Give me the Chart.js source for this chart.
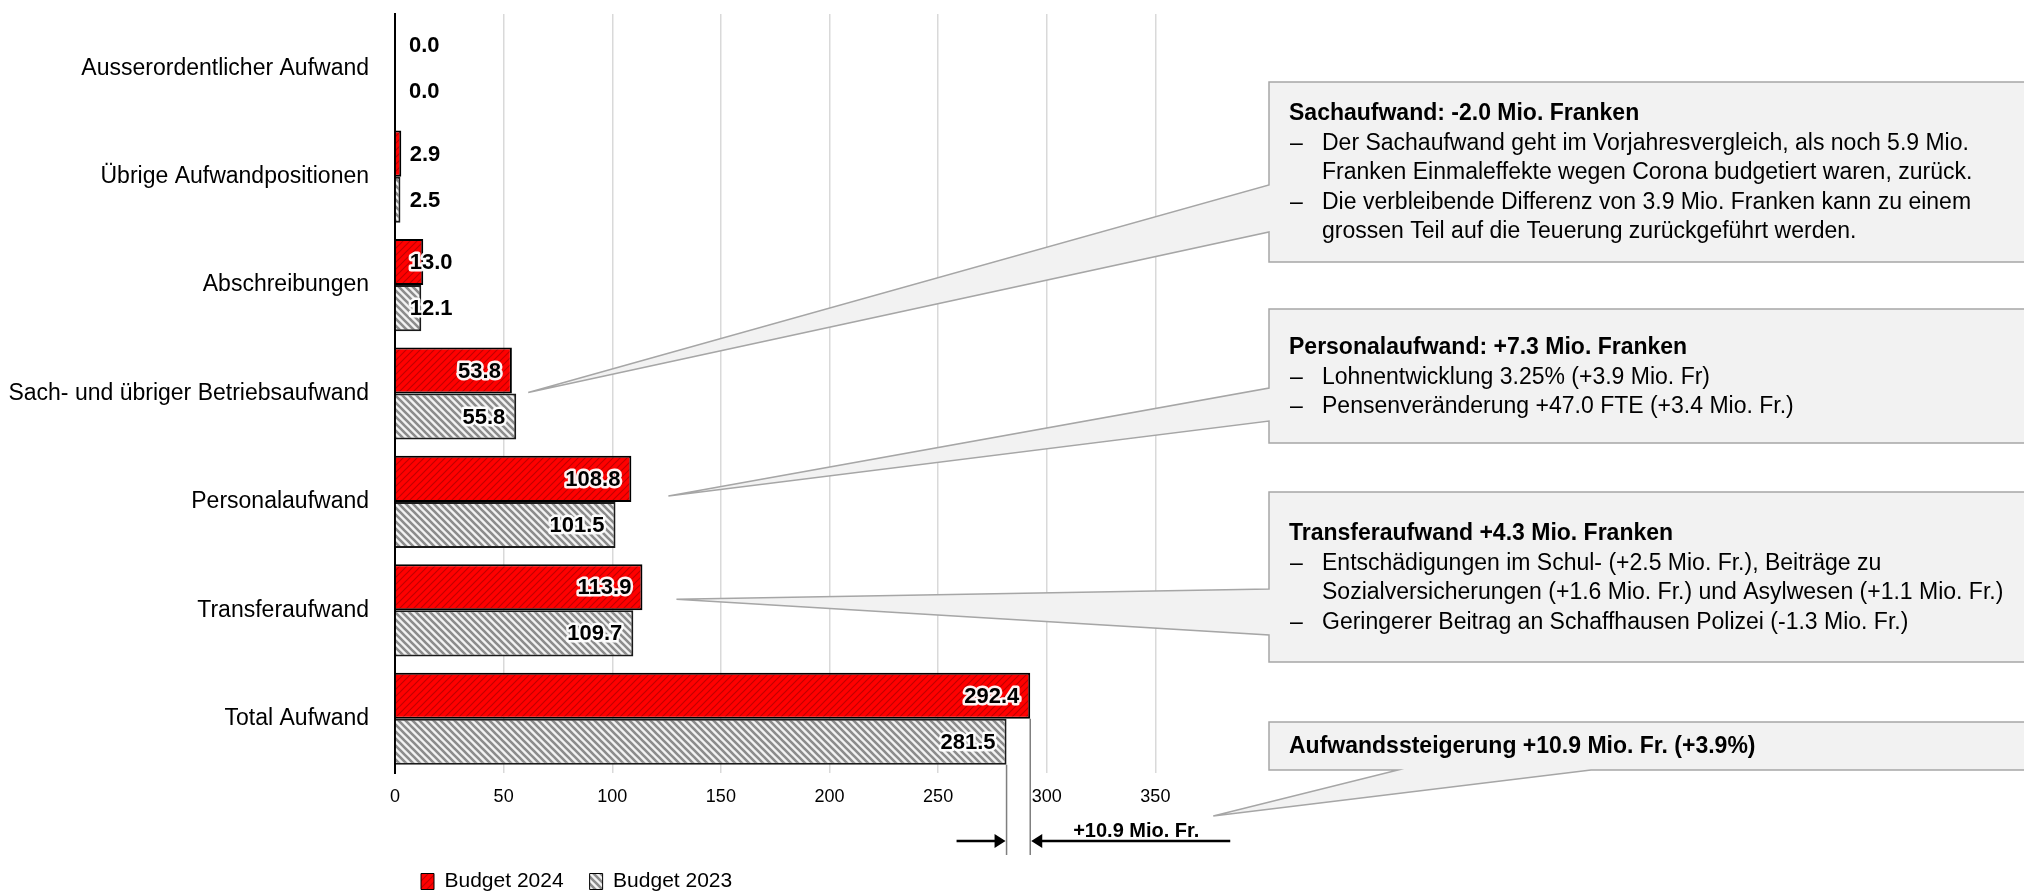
<!DOCTYPE html>
<html lang="de">

<head>
    <meta charset="UTF-8">
    <title>Aufwand Budget 2024 vs. Budget 2023</title>
    <script src="https://cdn.jsdelivr.net/npm/chart.js"></script>
    <style>
        html,
        body {
            margin: 0;
            padding: 0;
            background: #fff;
        }

        .wrap {
            position: relative;
            width: 2024px;
            height: 893px;
        }
    </style>
</head>

<body>
    <div class="wrap"><canvas id="aufwandChart"></canvas></div>

    <script>
        // Chart data (Mio. Franken)
        const categories = ['Ausserordentlicher Aufwand', 'Übrige Aufwandpositionen', 'Abschreibungen',
            'Sach- und übriger Betriebsaufwand', 'Personalaufwand', 'Transferaufwand', 'Total Aufwand'];
        const budget2024 = [0.0, 2.9, 13.0, 53.8, 108.8, 113.9, 292.4];
        const budget2023 = [0.0, 2.5, 12.1, 55.8, 101.5, 109.7, 281.5];
        const seriesNames = ['Budget 2024', 'Budget 2023'];
        const xTickLabels = [0, 50, 100, 150, 200, 250, 300, 350];
        const xMax = 400;

        // Callout texts (bullet: true starts a new "–" item)
        const calloutTitles = [
            'Sachaufwand: -2.0 Mio. Franken',
            'Personalaufwand: +7.3 Mio. Franken',
            'Transferaufwand +4.3 Mio. Franken',
            'Aufwandssteigerung +10.9 Mio. Fr. (+3.9%)'
        ];
        const calloutLines = [
            [
                { bullet: true, text: 'Der Sachaufwand geht im Vorjahresvergleich, als noch 5.9 Mio.' },
                { bullet: false, text: 'Franken Einmaleffekte wegen Corona budgetiert waren, zurück.' },
                { bullet: true, text: 'Die verbleibende Differenz von 3.9 Mio. Franken kann zu einem' },
                { bullet: false, text: 'grossen Teil auf die Teuerung zurückgeführt werden.' }
            ],
            [
                { bullet: true, text: 'Lohnentwicklung 3.25% (+3.9 Mio. Fr)' },
                { bullet: true, text: 'Pensenveränderung +47.0 FTE (+3.4 Mio. Fr.)' }
            ],
            [
                { bullet: true, text: 'Entschädigungen im Schul- (+2.5 Mio. Fr.), Beiträge zu' },
                { bullet: false, text: 'Sozialversicherungen (+1.6 Mio. Fr.) und Asylwesen (+1.1 Mio. Fr.)' },
                { bullet: true, text: 'Geringerer Beitrag an Schaffhausen Polizei (-1.3 Mio. Fr.)' }
            ],
            []
        ];
        const calloutCategory = [3, 4, 5, 6];
        const totalDiffLabel = '+10.9 Mio. Fr.';

        const FONT = "'Liberation Sans', Arial, Helvetica, sans-serif";

        // Diagonal hatch patterns like the Office fills
        function makeHatch(bg, stripe, width, rising) {
            const s = 7;
            const c = document.createElement('canvas');
            c.width = s;
            c.height = s;
            const g = c.getContext('2d');
            g.fillStyle = bg;
            g.fillRect(0, 0, s, s);
            g.strokeStyle = stripe;
            g.lineWidth = width;
            g.beginPath();
            if (rising) {
                g.moveTo(0, s); g.lineTo(s, 0);
                g.moveTo(-1, 1); g.lineTo(1, -1);
                g.moveTo(s - 1, s + 1); g.lineTo(s + 1, s - 1);
            } else {
                g.moveTo(0, 0); g.lineTo(s, s);
                g.moveTo(-1, s - 1); g.lineTo(1, s + 1);
                g.moveTo(s - 1, -1); g.lineTo(s + 1, 1);
            }
            g.stroke();
            return document.createElement('canvas').getContext('2d').createPattern(c, 'repeat');
        }

        const redHatch = makeHatch('#ff0000', '#c00000', 1.2, true);
        const greyHatch = makeHatch('#f2f2f2', '#8c8c8c', 2.6, false);

        // Callout boxes: geometry in canvas pixels, wedge tip relative to the bars
        const calloutLayout = [
            { left: 1269, top: 82, bottom: 262, titleY: 114, side: 'left', b1: 185, b2: 232, dx: 12, dy: -1 },
            { left: 1269, top: 309, bottom: 443, titleY: 348, side: 'left', b1: 388, b2: 421, dx: 37, dy: -6 },
            { left: 1269, top: 492, bottom: 662, titleY: 534, side: 'left', b1: 589, b2: 635, dx: 34, dy: -11 },
            { left: 1269, top: 722, bottom: 770, titleY: 747, side: 'bottom', b1: 1398, b2: 1591, dx: 183, dy: 43 }
        ];

        const calloutPlugin = {
            id: 'callouts',
            afterDatasetsDraw(chart) {
                const { ctx, scales: { x, y }, chartArea } = chart;
                ctx.save();
                calloutLayout.forEach((lay, k) => {
                    const cat = calloutCategory[k];
                    const reach = Math.max(budget2024[cat], budget2023[cat]);
                    let tipX = x.getPixelForValue(reach) + lay.dx;
                    let tipY = lay.side === 'left' ? y.getPixelForValue(cat) + lay.dy : chartArea.bottom + lay.dy;
                    const r = 2040;
                    ctx.beginPath();
                    if (lay.side === 'left') {
                        ctx.moveTo(lay.left, lay.top);
                        ctx.lineTo(r, lay.top);
                        ctx.lineTo(r, lay.bottom);
                        ctx.lineTo(lay.left, lay.bottom);
                        ctx.lineTo(lay.left, lay.b2);
                        ctx.lineTo(tipX, tipY);
                        ctx.lineTo(lay.left, lay.b1);
                    } else {
                        ctx.moveTo(lay.left, lay.top);
                        ctx.lineTo(r, lay.top);
                        ctx.lineTo(r, lay.bottom);
                        ctx.lineTo(lay.b2, lay.bottom);
                        ctx.lineTo(tipX, tipY);
                        ctx.lineTo(lay.b1, lay.bottom);
                        ctx.lineTo(lay.left, lay.bottom);
                    }
                    ctx.closePath();
                    ctx.fillStyle = '#f2f2f2';
                    ctx.fill();
                    ctx.strokeStyle = '#a6a6a6';
                    ctx.lineWidth = 1.5;
                    ctx.stroke();

                    // texts
                    ctx.fillStyle = '#000';
                    ctx.textBaseline = 'middle';
                    ctx.textAlign = 'left';
                    ctx.font = 'bold 23px ' + FONT;
                    ctx.fillText(calloutTitles[k], 1289, lay.titleY);
                    ctx.font = '23px ' + FONT;
                    calloutLines[k].forEach((ln, j) => {
                        const ly = lay.titleY + 29.5 * (j + 1);
                        if (ln.bullet) ctx.fillText('–', 1290, ly);
                        ctx.fillText(ln.text, 1322, ly);
                    });
                });

                // difference marker below the total bars
                const meta24 = chart.getDatasetMeta(0).data[6];
                const meta23 = chart.getDatasetMeta(1).data[6];
                const x24 = x.getPixelForValue(budget2024[6]);
                const x23 = x.getPixelForValue(budget2023[6]);
                const lineEnd = chartArea.bottom + 82;
                ctx.strokeStyle = '#7f7f7f';
                ctx.lineWidth = 1.5;
                ctx.beginPath();
                ctx.moveTo(x23, meta23.y + meta23.height / 2);
                ctx.lineTo(x23, lineEnd);
                ctx.moveTo(x24, meta24.y + meta24.height / 2);
                ctx.lineTo(x24, lineEnd);
                ctx.stroke();

                const ay = chartArea.bottom + 68;
                ctx.strokeStyle = '#000';
                ctx.fillStyle = '#000';
                ctx.lineWidth = 2.5;
                ctx.beginPath();
                ctx.moveTo(x23 - 50, ay);
                ctx.lineTo(x23 - 10, ay);
                ctx.moveTo(x24 + 10, ay);
                ctx.lineTo(x24 + 200, ay);
                ctx.stroke();
                ctx.beginPath();
                ctx.moveTo(x23 - 1, ay);
                ctx.lineTo(x23 - 12, ay - 7);
                ctx.lineTo(x23 - 12, ay + 7);
                ctx.closePath();
                ctx.moveTo(x24 + 1, ay);
                ctx.lineTo(x24 + 12, ay - 7);
                ctx.lineTo(x24 + 12, ay + 7);
                ctx.closePath();
                ctx.fill();

                ctx.font = 'bold 20px ' + FONT;
                ctx.textAlign = 'center';
                ctx.textBaseline = 'alphabetic';
                ctx.fillText(totalDiffLabel, x24 + 106, ay - 4);
                ctx.restore();
            }
        };

        // value labels at the inner end of each bar, with a white halo
        const valueLabelPlugin = {
            id: 'valueLabels',
            afterDatasetsDraw(chart) {
                const { ctx } = chart;
                ctx.save();
                ctx.font = 'bold 22px ' + FONT;
                ctx.textBaseline = 'middle';
                ctx.textAlign = 'left';
                ctx.lineJoin = 'round';
                chart.data.datasets.forEach((ds, di) => {
                    chart.getDatasetMeta(di).data.forEach((bar, i) => {
                        const txt = ds.data[i].toFixed(1);
                        const w = ctx.measureText(txt).width;
                        const left = Math.max(bar.base + 14, bar.x - 11 - w);
                        ctx.lineWidth = 5;
                        ctx.strokeStyle = 'rgba(255,255,255,0.95)';
                        ctx.strokeText(txt, left, bar.y + 1);
                        ctx.fillStyle = '#000';
                        ctx.fillText(txt, left, bar.y + 1);
                    });
                });
                ctx.restore();
            }
        };

        const ctx = document.getElementById('aufwandChart').getContext('2d');
        new Chart(ctx, {
            type: 'bar',
            data: {
                labels: categories,
                datasets: [{
                    label: seriesNames[0],
                    data: budget2024,
                    backgroundColor: redHatch,
                    borderColor: '#000',
                    borderWidth: c => (c.raw > 0 ? 2 : 0),
                    borderSkipped: 'start',
                    categoryPercentage: 0.85,
                    barPercentage: 1.0
                }, {
                    label: seriesNames[1],
                    data: budget2023,
                    backgroundColor: greyHatch,
                    borderColor: '#1a1a1a',
                    borderWidth: c => (c.raw > 0 ? 2 : 0),
                    borderSkipped: 'start',
                    categoryPercentage: 0.85,
                    barPercentage: 1.0
                }]
            },
            options: {
                indexAxis: 'y',
                responsive: true,
                maintainAspectRatio: false,
                animation: false,
                layout: { padding: { left: 0, right: 760, top: 14, bottom: -9 } },
                scales: {
                    x: {
                        min: 0,
                        max: xMax,
                        ticks: {
                            stepSize: 50,
                            autoSkip: false,
                            maxRotation: 0,
                            padding: 13,
                            color: '#000',
                            font: { family: FONT, size: 18 },
                            callback: v => (xTickLabels.includes(v) ? String(v) : '')
                        },
                        grid: {
                            drawTicks: false,
                            lineWidth: 1.5,
                            color: c => (c.tick && c.tick.value === xMax ? 'rgba(0,0,0,0)' : '#d9d9d9')
                        },
                        border: { display: false },
                        afterFit: s => { s.height = 72; }
                    },
                    y: {
                        ticks: {
                            padding: 26,
                            color: '#000',
                            font: { family: FONT, size: 23 }
                        },
                        grid: { display: false, drawTicks: false },
                        border: { display: true, color: '#000', width: 2 },
                        afterFit: s => {
                            s.width = 395;
                            s.paddingTop = 0;
                            s.paddingBottom = 0;
                        }
                    }
                },
                plugins: {
                    legend: {
                        position: 'bottom',
                        align: 'start',
                        fullSize: false,
                        labels: {
                            color: '#000',
                            font: { family: FONT, size: 21 },
                            boxWidth: 13,
                            boxHeight: 16,
                            padding: 26,
                            generateLabels: chart => chart.data.datasets.map((ds, i) => ({
                                text: ds.label,
                                fillStyle: i === 0 ? redHatch : greyHatch,
                                strokeStyle: '#000',
                                lineWidth: 1,
                                hidden: false,
                                datasetIndex: i
                            }))
                        }
                    },
                    tooltip: { enabled: false }
                }
            },
            plugins: [calloutPlugin, valueLabelPlugin]
        });
    </script>
</body>

</html>
